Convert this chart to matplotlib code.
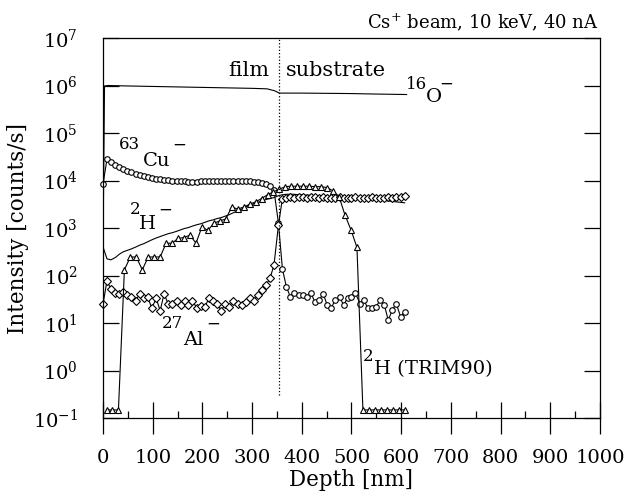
import numpy as np
import matplotlib
matplotlib.use('Agg')
import matplotlib.pyplot as plt

plt.rcParams['font.family'] = 'DejaVu Serif'
plt.rcParams['mathtext.fontset'] = 'dejavuserif'

# sputter depth of the SIMS cycles (nm), shared by Cu, Al and 2H
depth = [0, 8, 16, 25, 33, 41, 49, 57, 66, 74, 82, 90, 98, 107, 115, 123, 131,
         139, 148, 156, 164, 172, 180, 189, 197, 205, 213, 221, 230, 238, 246,
         254, 262, 271, 279, 287, 295, 303, 312, 320, 328, 336, 344, 353, 361,
         369, 377, 385, 394, 402, 410, 418, 426, 435, 443, 451, 459, 467, 476,
         484, 492, 500, 508, 517, 525, 533, 541, 549, 558, 566, 574, 582, 590,
         599, 607]

# log10 of intensity (counts/s)
cu_log = [3.93, 4.45, 4.38, 4.33, 4.28, 4.24, 4.2, 4.17, 4.14, 4.12, 4.1, 4.08,
          4.06, 4.04, 4.03, 4.02, 4.01, 4.0, 3.99, 3.99, 3.98, 3.97, 3.97, 3.97,
          3.98, 3.98, 3.98, 3.99, 3.99, 3.99, 3.99, 3.99, 3.98, 3.98, 3.98, 3.99,
          3.98, 3.97, 3.96, 3.94, 3.92, 3.88, 3.8, 3.1, 2.14,
          1.76, 1.55, 1.64, 1.6, 1.6, 1.55, 1.64, 1.45, 1.48, 1.62, 1.38, 1.31,
          1.48, 1.55, 1.38, 1.52, 1.55, 1.63, 1.41, 1.48, 1.31, 1.31, 1.34, 1.48,
          1.38, 1.06, 1.27, 1.41, 1.13, 1.24]

al_log = [1.40, 1.89, 1.71, 1.64, 1.62, 1.66, 1.59, 1.55, 1.47, 1.62, 1.52, 1.55,
          1.31, 1.52, 1.26, 1.62, 1.40, 1.40, 1.47, 1.38, 1.47, 1.38, 1.47, 1.31,
          1.36, 1.34, 1.52, 1.47, 1.40, 1.26, 1.40, 1.34, 1.47, 1.40, 1.38, 1.45,
          1.52, 1.47, 1.59, 1.69, 1.8, 1.94, 2.22, 3.06,
          3.62, 3.64, 3.65, 3.64, 3.66, 3.65, 3.64, 3.65, 3.66, 3.64, 3.65, 3.64,
          3.63, 3.64, 3.65, 3.64, 3.63, 3.64, 3.65, 3.64, 3.63, 3.64, 3.65, 3.64,
          3.63, 3.64, 3.65, 3.64, 3.66, 3.65, 3.68]

h_log = [2.6, 2.35, 2.33, 2.38, 2.45, 2.5, 2.53, 2.56, 2.6, 2.64, 2.67, 2.71,
         2.75, 2.79, 2.82, 2.85, 2.88, 2.9, 2.93, 2.96, 2.99, 3.01, 3.04, 3.07,
         3.09, 3.12, 3.15, 3.17, 3.2, 3.22, 3.25, 3.28, 3.32, 3.36, 3.4, 3.44,
         3.48, 3.51, 3.54, 3.57, 3.6, 3.62, 3.64, 3.68,
         3.70, 3.71, 3.71, 3.71, 3.7, 3.7, 3.69, 3.69, 3.68, 3.68, 3.67, 3.67,
         3.66, 3.66, 3.65, 3.65, 3.64, 3.64, 3.63, 3.62, 3.62, 3.61, 3.6, 3.6,
         3.59, 3.58, 3.57, 3.56, 3.55, 3.54, 3.53]

o_depth = [0, 3, 10, 50, 100, 150, 200, 250, 300, 330, 345, 355, 360, 400, 450,
           500, 550, 611]
o_log = [2.6, 5.99, 6.0, 5.99, 5.98, 5.97, 5.96, 5.95, 5.94, 5.93, 5.89, 5.84,
         5.84, 5.84, 5.835, 5.83, 5.82, 5.81]

trim_depth = [7, 19, 31, 43, 55, 67, 79, 91, 103, 115, 127, 139, 151, 163, 175,
              187, 199, 211, 223, 235, 247, 259, 271, 283, 295, 307, 319, 331,
              343, 355, 367, 379, 391, 403, 415, 427, 439, 451, 463, 475, 487,
              499, 511, 523, 535, 547, 559, 571, 583, 595, 607]
trim_log = [-0.83, -0.83, -0.83, 2.12, 2.39, 2.39, 2.12, 2.39, 2.39, 2.39, 2.68,
            2.68, 2.78, 2.8, 2.85, 2.68, 3.02, 2.95, 3.1, 3.15, 3.19, 3.44, 3.4,
            3.44, 3.5, 3.55, 3.62, 3.7, 3.76, 3.82, 3.87, 3.88, 3.88, 3.88, 3.88,
            3.87, 3.87, 3.85, 3.78, 3.66, 3.27, 2.96, 2.59,
            -0.83, -0.83, -0.83, -0.83, -0.83, -0.83, -0.83, -0.83]

interface = 355

fig = plt.figure(figsize=(6.29, 5.0), dpi=100)
ax = fig.add_axes([0.1638, 0.164, 0.790, 0.76])

lw = 0.8
ax.plot(o_depth, 10 ** np.array(o_log), color='black', lw=lw)
ax.plot(depth, 10 ** np.array(h_log), color='black', lw=lw)
ax.plot(depth, 10 ** np.array(cu_log), color='black', lw=lw, marker='o',
        ms=4, mfc='white', mew=0.8, clip_on=False)
ax.plot(depth, 10 ** np.array(al_log), color='black', lw=lw, marker='D',
        ms=4.5, mfc='white', mew=0.8, clip_on=False)
ax.plot(trim_depth, 10 ** np.array(trim_log), color='black', lw=lw, marker='^',
        ms=5, mfc='white', mew=0.8)
ax.plot([interface, interface], [0.3, 1e7], color='black', lw=0.9, ls=':')

ax.set_yscale('log')
ax.set_xlim(0, 1000)
ax.set_ylim(1e-1, 1e7)
ax.set_xticks(range(0, 1001, 100))
ax.set_xticks(range(50, 1000, 100), minor=True)
ax.set_yticks([10.0 ** k for k in range(-1, 8)])
ax.yaxis.set_minor_locator(matplotlib.ticker.NullLocator())

ax.tick_params(axis='x', which='major', direction='inout', length=23, width=0.9,
               labelsize=14, pad=11)
ax.tick_params(axis='x', which='minor', direction='in', length=5, width=0.9)
ax.tick_params(axis='y', which='major', direction='in', length=11.5, width=0.9,
               labelsize=14, pad=18, right=True)
for s in ax.spines.values():
    s.set_linewidth(0.9)

ax.set_xlabel('Depth [nm]', fontsize=15.5, labelpad=1)
ax.set_ylabel('Intensity [counts/s]', fontsize=15.5, labelpad=3)

fig.text(598 / 629, 1 - 22 / 500, r'Cs$^{+}$ beam, 10 keV, 40 nA',
         ha='right', va='center', fontsize=13)

big = 14
small = 12
ax.text(335, 10 ** 6.31, 'film', ha='right', va='center', fontsize=15)
ax.text(367, 10 ** 6.31, 'substrate', ha='left', va='center', fontsize=15)

ax.text(630, 10 ** 6.02, '16', ha='center', va='center', fontsize=small)
ax.text(666, 10 ** 5.75, 'O', ha='center', va='center', fontsize=big)
ax.text(690, 10 ** 6.03, '\u2212', ha='center', va='center', fontsize=small)

ax.text(54, 10 ** 4.75, '63', ha='center', va='center', fontsize=small)
ax.text(107, 10 ** 4.41, 'Cu', ha='center', va='center', fontsize=big)
ax.text(154, 10 ** 4.75, '\u2212', ha='center', va='center', fontsize=small)

ax.text(64, 10 ** 3.4, '2', ha='center', va='center', fontsize=small)
ax.text(89, 10 ** 3.08, 'H', ha='center', va='center', fontsize=big)
ax.text(126, 10 ** 3.38, '\u2212', ha='center', va='center', fontsize=small)

ax.text(139, 10 ** 0.98, '27', ha='center', va='center', fontsize=small)
ax.text(182, 10 ** 0.64, 'Al', ha='center', va='center', fontsize=big)
ax.text(221, 10 ** 0.98, '\u2212', ha='center', va='center', fontsize=small)

ax.text(533, 10 ** 0.3, '2', ha='center', va='center', fontsize=small)
ax.text(546, 10 ** 0.03, 'H (TRIM90)', ha='left', va='center', fontsize=big)

fig.savefig('out.png', dpi=100)
